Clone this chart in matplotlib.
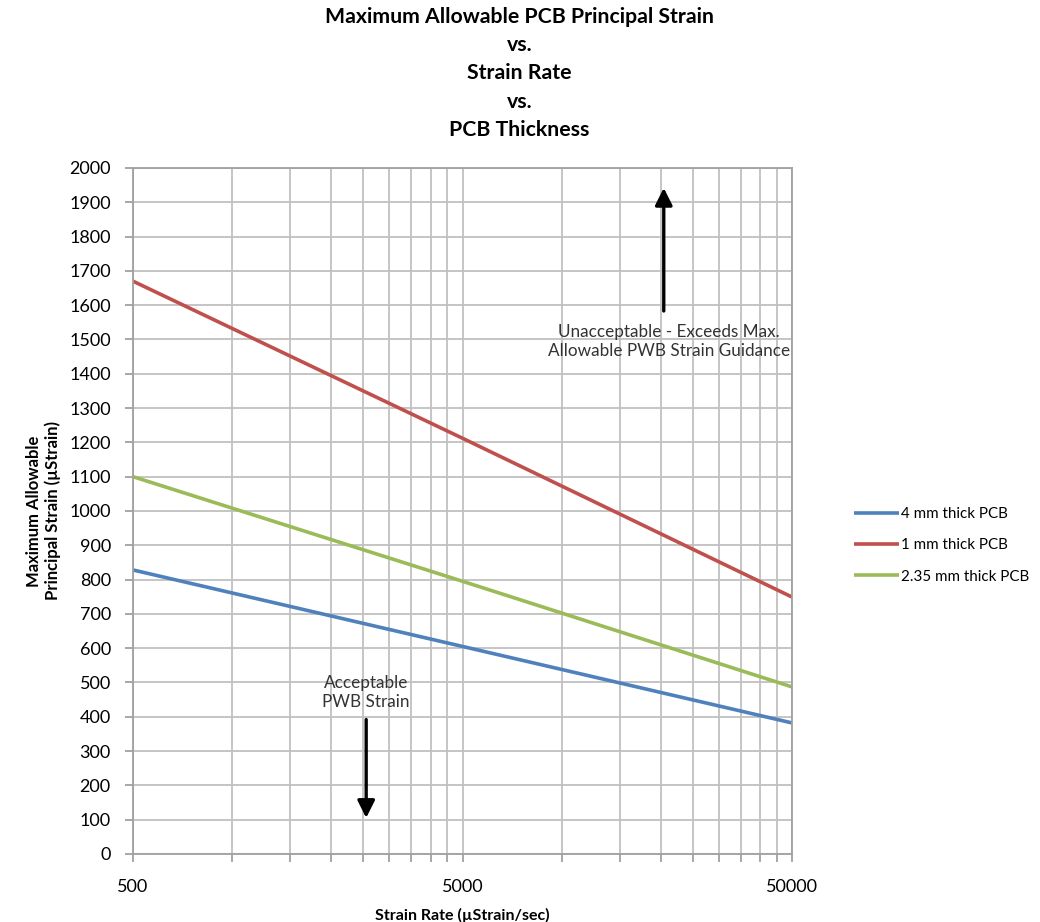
import matplotlib.pyplot as plt
import numpy as np
from matplotlib.ticker import FixedLocator, FixedFormatter, NullFormatter

plt.rcParams['font.family'] = ['Lato', 'DejaVu Sans']

# Strain rate (uStrain/sec) and allowable principal strain per board thickness
strain_rate = [500, 5000, 50000]
pcb_4mm = [828, 605, 382]
pcb_1mm = [1670, 1212, 749]
pcb_235mm = [1100, 795, 487]

series_labels = ['4 mm thick PCB', '1 mm thick PCB', '2.35 mm thick PCB']
series_colors = ['#4F81BD', '#C0504D', '#9BBB59']

fig = plt.figure(figsize=(10.4, 9.22), dpi=100)
ax = fig.add_axes([0.1279, 0.0738, 0.6337, 0.744])

for vals, lab, col in zip([pcb_4mm, pcb_1mm, pcb_235mm], series_labels, series_colors):
    ax.plot(strain_rate, vals, color=col, lw=2.6, label=lab, solid_capstyle='butt')

ax.set_xscale('log')
ax.set_xlim(500, 50000)
ax.set_ylim(0, 2000)

# log axis based at 500: gridlines at every multiple of 500 / 5000
major_x = [500, 5000, 50000]
minor_x = [500 * k for k in range(2, 10)] + [5000 * k for k in range(2, 10)]
ax.xaxis.set_major_locator(FixedLocator(major_x))
ax.xaxis.set_major_formatter(FixedFormatter(['500', '5000', '50000']))
ax.xaxis.set_minor_locator(FixedLocator(minor_x))
ax.xaxis.set_minor_formatter(NullFormatter())
ax.set_yticks(np.arange(0, 2001, 100))

ax.grid(which='both', color='#C0C0C0', lw=1.3)
ax.set_axisbelow(True)
for s in ax.spines.values():
    s.set_color('#A0A0A0')
    s.set_linewidth(1.3)
ax.tick_params(axis='both', which='both', length=6, color='#A0A0A0', width=1.3,
               labelsize=13)
ax.tick_params(axis='x', pad=12)
ax.tick_params(axis='y', pad=10)

ax.set_xlabel('Strain Rate (µStrain/sec)', fontsize=11.5, fontweight='bold', labelpad=9)
ax.set_ylabel('Maximum Allowable\nPrincipal Strain (µStrain)', fontsize=12,
              fontweight='bold', labelpad=6)

title_lines = ['Maximum Allowable PCB Principal Strain', 'vs.', 'Strain Rate', 'vs.', 'PCB Thickness']
for i, t in enumerate(title_lines):
    fig.text(0.4995, 1 - (17 + 28.2 * i) / 922, t, ha='center', va='center',
             fontsize=15.3, fontweight='bold')

# annotation arrows for the acceptable / unacceptable regions
ax.annotate('', xy=(20400, 1950), xytext=(20400, 1575),
            arrowprops=dict(arrowstyle='-|>', color='black', lw=2.4, mutation_scale=26))
ax.text(21200, 1495, 'Unacceptable - Exceeds Max.\nAllowable PWB Strain Guidance',
        ha='center', va='center', fontsize=12.3, color='#333333', linespacing=1.25)

ax.annotate('', xy=(2550, 97), xytext=(2550, 400),
            arrowprops=dict(arrowstyle='-|>', color='black', lw=2.4, mutation_scale=26))
ax.text(2550, 470, 'Acceptable\nPWB Strain', ha='center', va='center',
        fontsize=12.3, color='#333333', linespacing=1.2)

leg = fig.legend(loc='upper left', bbox_to_anchor=(0.808, 0.465), frameon=False,
                 fontsize=10.9, handlelength=3.0, handletextpad=0.1, labelspacing=1.15)

fig.savefig('out.png', dpi=100)
